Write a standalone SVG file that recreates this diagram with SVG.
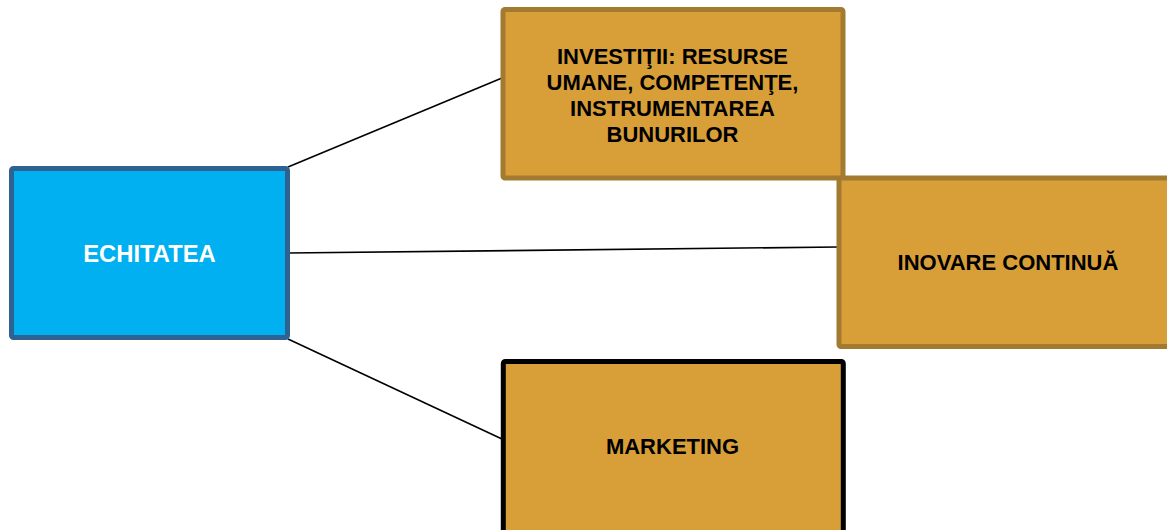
<svg xmlns="http://www.w3.org/2000/svg" width="1167" height="530" viewBox="0 0 1167 530">
<style>
.gold{fill:#D89E38;stroke:#A27A30;stroke-width:5}
.blk{fill:#D89E38;stroke:#000000;stroke-width:5}
.blue{fill:#00B0F0;stroke:#2D6291;stroke-width:5}
.t{font-family:"Liberation Sans",Arial,sans-serif;font-weight:bold;font-size:22px;text-anchor:middle;fill:#000}
.w{fill:#fff;font-size:23.8px}
.c{stroke:#000;stroke-width:1.6;fill:none}
</style>
<rect width="1167" height="530" fill="#fff"/>
<g id="connectors">
<line class="c" x1="288" y1="167" x2="502" y2="78"/>
<line class="c" x1="288" y1="253" x2="838" y2="247"/>
<line class="c" x1="288" y1="339" x2="502" y2="439"/>
</g>
<g id="echitatea">
<rect class="blue" x="11.5" y="168.5" width="276" height="169" rx="2"/>
<text class="t w" x="149.5" y="262">ECHITATEA</text>
</g>
<g id="investitii">
<rect class="gold" x="503" y="9.5" width="340" height="168.5" rx="2"/>
<text class="t" x="672.5" y="64">INVESTIŢII: RESURSE</text>
<text class="t" x="672.5" y="90">UMANE, COMPETENŢE,</text>
<text class="t" x="672.5" y="116">INSTRUMENTAREA</text>
<text class="t" x="672.5" y="142">BUNURILOR</text>
</g>
<g id="inovare">
<rect class="gold" x="839" y="178" width="340" height="168.5" rx="2"/>
<text class="t" x="1008" y="270">INOVARE CONTINUĂ</text>
</g>
<g id="marketing">
<rect class="blk" x="503.3" y="361.5" width="340" height="175" rx="2"/>
<text class="t" x="672.5" y="454">MARKETING</text>
</g>
</svg>
